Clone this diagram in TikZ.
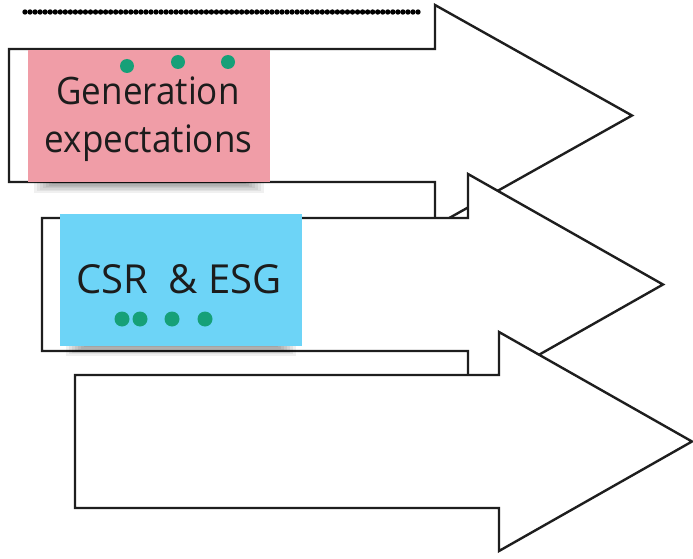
\documentclass[tikz,border=0pt]{standalone}
\usepackage{fontspec}
\setmainfont{Open Sans}
\usetikzlibrary{calc}
\definecolor{inkline}{HTML}{1E1E1E}
\definecolor{notepink}{HTML}{F09DA7}
\definecolor{noteblue}{HTML}{6DD4F7}
\definecolor{pingreen}{HTML}{16A078}
\definecolor{notetextcol}{HTML}{1C1C1C}
\begin{document}
\begin{tikzpicture}[x=1pt,y=-1pt,
  arrowshape/.style={draw=inkline, line width=2.4pt, fill=white, line join=miter},
  note/.style={draw=none, minimum width=242pt, minimum height=132pt, inner sep=0pt},
  notetext/.style={text=notetextcol, anchor=base, inner sep=0pt},
  pin/.style={fill=pingreen}]
\useasboundingbox (0,0) rectangle (693,559);

% dotted rule along the top
\coordinate (ruleL) at (25,12);
\coordinate (ruleR) at (418,12);
\foreach \d in {0,...,78}
  \fill[black] ($(ruleL)!\d/78!(ruleR)$) circle[radius=2.7pt];

% first arrow
\draw[arrowshape] (9,49) -- (435,49) -- (435,5) -- (632,115.5) -- (435,226) -- (435,182) -- (9,182) -- cycle;

% pink note with soft shadow
\foreach \k in {1,...,8}
  \fill[black, opacity=0.06] (31+3*\k,172) rectangle (267-3*\k,194-1.4*\k);
\node[note, fill=notepink] (gen) at (149,116) {};
\node[notetext, font=\fontsize{35}{37}\selectfont, yscale=1.08] (genA) at (148,105) {Generation};
\node[notetext, font=\fontsize{35}{37}\selectfont, yscale=1.08] (genB) at (148.5,153) {expectations};
\fill[pin] (127,66) circle[radius=7pt];
\fill[pin] (178,62) circle[radius=7pt];
\fill[pin] (228,62) circle[radius=7pt];

% second arrow
\draw[arrowshape] (42,218) -- (468,218) -- (468,174) -- (663,284.5) -- (468,395) -- (468,351) -- (42,351) -- cycle;

% blue note with soft shadow
\foreach \k in {1,...,8}
  \fill[black, opacity=0.06] (63+3*\k,335) rectangle (299-3*\k,357-1.4*\k);
\node[note, fill=noteblue] (csr) at (181,279.5) {};
\node[notetext, font=\fontsize{40}{42}\selectfont] (csrT) at (179,293) {CSR\ \ \& ESG};
\fill[pin] (122,319) circle[radius=7.5pt];
\fill[pin] (140,319) circle[radius=7.5pt];
\fill[pin] (172,319) circle[radius=7.5pt];
\fill[pin] (205,319) circle[radius=7.5pt];

% third arrow
\draw[arrowshape] (75,375) -- (499,375) -- (499,332) -- (692,441.5) -- (499,551) -- (499,508) -- (75,508) -- cycle;
\end{tikzpicture}
\end{document}
